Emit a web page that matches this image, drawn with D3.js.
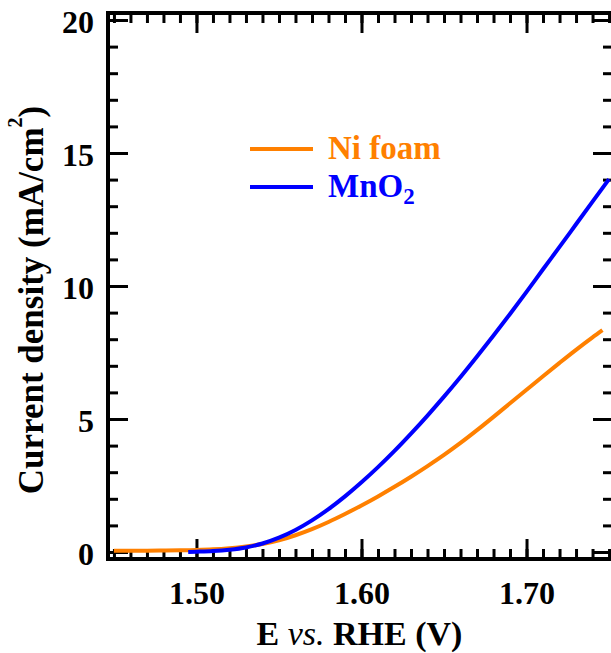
<!DOCTYPE html>
<html>
<head>
<meta charset="utf-8">
<script src="https://cdn.jsdelivr.net/npm/d3@7"></script>
<style>
  html, body { margin: 0; padding: 0; background: #fff; }
  svg { display: block; }
  text { font-family: "Liberation Serif", "Times New Roman", serif; font-weight: bold; }
</style>
</head>
<body>
<svg id="chart" width="611" height="653"></svg>
<script>
// Polarization curves: current density vs. potential
const niFoamE = [1.45, 1.46, 1.47, 1.48, 1.49, 1.50, 1.51, 1.52, 1.53, 1.54, 1.55, 1.56, 1.57, 1.58, 1.59,
                 1.60, 1.61, 1.62, 1.63, 1.64, 1.65, 1.66, 1.67, 1.68, 1.69, 1.70, 1.71, 1.72, 1.73, 1.74, 1.746];
const niFoamJ = [0.05, 0.05, 0.05, 0.055, 0.062, 0.075, 0.10, 0.145, 0.21, 0.30, 0.44, 0.63, 0.86, 1.13, 1.43,
                 1.75, 2.09, 2.45, 2.83, 3.23, 3.65, 4.10, 4.58, 5.08, 5.59, 6.10, 6.61, 7.11, 7.60, 8.07, 8.34];

const mnO2E = [1.495, 1.50, 1.51, 1.52, 1.53, 1.54, 1.55, 1.56, 1.57, 1.58, 1.59, 1.60, 1.61, 1.62, 1.63,
               1.64, 1.65, 1.66, 1.67, 1.68, 1.69, 1.70, 1.71, 1.72, 1.73, 1.74, 1.75];
const mnO2J = [0.00, 0.01, 0.035, 0.085, 0.17, 0.32, 0.54, 0.83, 1.19, 1.61, 2.09, 2.62, 3.19, 3.80, 4.45,
               5.13, 5.84, 6.58, 7.35, 8.14, 8.95, 9.78, 10.63, 11.47, 12.32, 13.17, 14.02];

const seriesNames = ["Ni foam", "MnO"];
const seriesColors = ["#ff8000", "#0000ff"];

const xMajorTicks = [1.50, 1.60, 1.70];
const yMajorTicks = [0, 5, 10, 15, 20];

const svg = d3.select("#chart");
const plotLeft = 108, plotRight = 613, plotTop = 13, plotBottom = 559;

const x = d3.scaleLinear().domain([1.4464, 1.7524]).range([plotLeft, plotRight]);
const y = d3.scaleLinear().domain([-0.263, 20.263]).range([plotBottom, plotTop]);

const xMinor = d3.range(1.45, 1.7501, 0.01).map(v => +v.toFixed(2));
const yMinor = d3.range(0, 20.01, 1);

function styleAxis(g) {
  g.select(".domain").remove();
  g.selectAll(".tick line").attr("stroke", "#000").attr("stroke-width", 3);
  g.selectAll(".tick text").attr("fill", "#000").style("font-size", "32px");
}

// minor ticks on all four sides, pointing inward
svg.append("g").attr("transform", `translate(0,${plotBottom})`)
  .call(d3.axisBottom(x).tickValues(xMinor).tickSize(-10).tickFormat("")).call(styleAxis);
svg.append("g").attr("transform", `translate(0,${plotTop})`)
  .call(d3.axisTop(x).tickValues(xMinor).tickSize(-10).tickFormat("")).call(styleAxis);
svg.append("g").attr("transform", `translate(${plotLeft},0)`)
  .call(d3.axisLeft(y).tickValues(yMinor).tickSize(-10).tickFormat("")).call(styleAxis);
svg.append("g").attr("transform", `translate(${plotRight},0)`)
  .call(d3.axisRight(y).tickValues(yMinor).tickSize(-10).tickFormat("")).call(styleAxis);

// major ticks with labels
svg.append("g").attr("transform", `translate(0,${plotBottom})`)
  .call(d3.axisBottom(x).tickValues(xMajorTicks).tickSize(-20).tickPadding(22).tickFormat(d3.format(".2f")))
  .call(styleAxis);
svg.append("g").attr("transform", `translate(0,${plotTop})`)
  .call(d3.axisTop(x).tickValues(xMajorTicks).tickSize(-20).tickFormat("")).call(styleAxis);
svg.append("g").attr("transform", `translate(${plotLeft},0)`)
  .call(d3.axisLeft(y).tickValues(yMajorTicks).tickSize(-20).tickPadding(14).tickFormat(d3.format("d")))
  .call(styleAxis)
  .call(g => g.selectAll(".tick text").attr("dy", "0.4em"));
svg.append("g").attr("transform", `translate(${plotRight},0)`)
  .call(d3.axisRight(y).tickValues(yMajorTicks).tickSize(-20).tickFormat("")).call(styleAxis);

// frame
svg.append("rect")
  .attr("x", plotLeft).attr("y", plotTop)
  .attr("width", plotRight - plotLeft).attr("height", plotBottom - plotTop)
  .attr("fill", "none").attr("stroke", "#000").attr("stroke-width", 4);

// curves
const line = d3.line().x(d => x(d[0])).y(d => y(d[1])).curve(d3.curveMonotoneX);
const niData = niFoamE.map((e, i) => [e, niFoamJ[i]]);
const mnData = mnO2E.map((e, i) => [e, mnO2J[i]]);

svg.append("path").datum(niData).attr("d", line)
  .attr("fill", "none").attr("stroke", seriesColors[0]).attr("stroke-width", 4);
svg.append("path").datum(mnData).attr("d", line)
  .attr("fill", "none").attr("stroke", seriesColors[1]).attr("stroke-width", 4);

// legend
const legend = svg.append("g");
legend.append("line").attr("x1", 250).attr("x2", 313).attr("y1", 149).attr("y2", 149)
  .attr("stroke", seriesColors[0]).attr("stroke-width", 4);
legend.append("text").attr("x", 328).attr("y", 159).attr("fill", seriesColors[0])
  .style("font-size", "33px").text(seriesNames[0]);
legend.append("line").attr("x1", 250).attr("x2", 313).attr("y1", 187).attr("y2", 187)
  .attr("stroke", seriesColors[1]).attr("stroke-width", 4);
const mnText = legend.append("text").attr("x", 328).attr("y", 197).attr("fill", seriesColors[1])
  .style("font-size", "33px");
mnText.append("tspan").text(seriesNames[1]);
mnText.append("tspan").attr("dy", 7).style("font-size", "23px").text("2");

// axis titles
const xTitle = svg.append("text").attr("x", (plotLeft + plotRight) / 2 - 1).attr("y", 645)
  .attr("text-anchor", "middle").style("font-size", "34px").attr("fill", "#000");
xTitle.append("tspan").text("E ");
xTitle.append("tspan").style("font-style", "italic").style("font-weight", "normal").text("vs.");
xTitle.append("tspan").text(" RHE (V)");

const yTitle = svg.append("text")
  .attr("transform", `translate(43,${(plotTop + plotBottom) / 2 + 14}) rotate(-90)`)
  .attr("text-anchor", "middle").style("font-size", "35px").attr("fill", "#000");
yTitle.append("tspan").text("Current density (mA/cm");
yTitle.append("tspan").attr("dy", -21).style("font-size", "20px").text("2");
yTitle.append("tspan").attr("dy", 21).text(")");
</script>
</body>
</html>
